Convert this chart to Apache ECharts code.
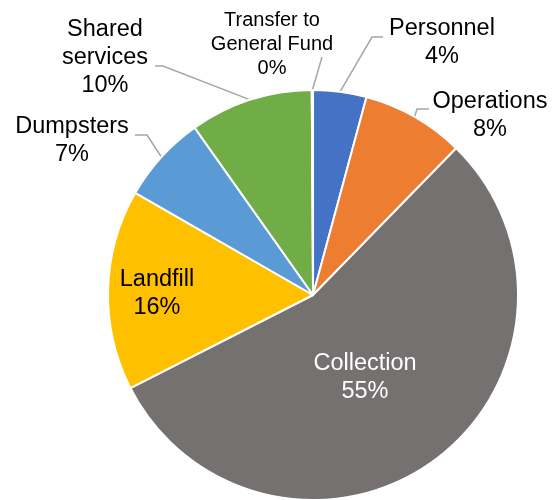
<!DOCTYPE html>
<html>
<head>
<meta charset="utf-8">
<script src="https://cdn.jsdelivr.net/npm/echarts@6/dist/echarts.min.js"></script>
<style>
  html, body { margin: 0; padding: 0; background: #fff; }
  #chart { width: 558px; height: 500px; }
</style>
</head>
<body>
<div id="chart"></div>
<script>
const categories = ['Personnel', 'Operations', 'Collection', 'Landfill', 'Dumpsters', 'Shared\nservices', 'Transfer to\nGeneral Fund'];
const shares = [4.2, 8.1, 55.2, 15.8, 6.9, 9.7, 0.1];

const sliceColors = ['#4472c4', '#ed7d31', '#767171', '#ffc000', '#5b9bd5', '#70ad47', '#a5a5a5'];

// where each label sits (block centre) and where its leader line stops
const labelSpots = [
  { at: [442, 43], end: [383, 37], stub: -11 },
  { at: [490, 116], end: [429, 109], stub: -12 },
  { at: [365, 378], inside: true, color: '#fff' },
  { at: [157, 294], inside: true },
  { at: [72, 141], end: [135, 135], stub: 12 },
  { at: [105, 58], end: [155, 66], stub: 8 },
  { at: [272, 44], end: [322, 57], stub: 0, small: true }
];

const chart = echarts.init(document.getElementById('chart'));

const data = categories.map((name, i) => {
  const spot = labelSpots[i];
  return {
    name: name,
    value: shares[i],
    itemStyle: { color: sliceColors[i] },
    label: {
      position: spot.inside ? 'inside' : 'outside',
      color: spot.color || '#000',
      fontSize: spot.small ? 20 : 23.5,
      lineHeight: spot.small ? 24 : 28
    },
    labelLine: { show: !spot.inside }
  };
});

chart.setOption({
  backgroundColor: '#fff',
  animation: false,
  series: [{
    type: 'pie',
    center: ['56.1%', '59%'],
    radius: 205,
    startAngle: 90,
    clockwise: true,
    percentPrecision: 0,
    avoidLabelOverlap: false,
    itemStyle: { borderColor: '#fff', borderWidth: 2 },
    label: {
      show: true,
      formatter: '{b}\n{d}%',
      fontFamily: 'Liberation Sans, Arial, sans-serif',
      align: 'center'
    },
    labelLine: {
      show: true,
      length: 10,
      length2: 10,
      lineStyle: { color: '#a6a6a6', width: 1.5 }
    },
    emphasis: { disabled: true },
    labelLayout: (params) => {
      const spot = labelSpots[params.dataIndex];
      const out = { x: spot.at[0], y: spot.at[1], align: 'center', verticalAlign: 'middle' };
      if (!spot.inside && params.labelLinePoints) {
        const anchor = params.labelLinePoints[0];
        out.labelLinePoints = [
          anchor,
          [spot.end[0] + spot.stub, spot.end[1]],
          spot.end
        ];
      }
      return out;
    },
    data: data
  }]
});
</script>
</body>
</html>
